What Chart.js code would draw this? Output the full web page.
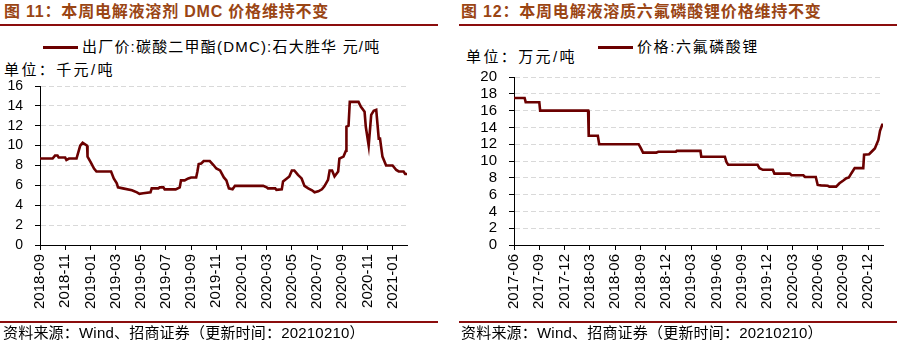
<!DOCTYPE html>
<html>
<head>
<meta charset="utf-8">
<script src="https://cdn.jsdelivr.net/npm/chart.js@4.4.1/dist/chart.umd.min.js"></script>
<style>
  html, body { margin: 0; padding: 0; background: #fff; }
  #page { position: relative; width: 900px; height: 345px; overflow: hidden;
          font-family: "Liberation Sans", Arial, "Noto Sans CJK SC", sans-serif; color: #000; }
  .abs { position: absolute; white-space: nowrap; }
  .title { top: 2px; font-size: 16px; line-height: 20px; font-weight: bold; color: #9a4514; letter-spacing: 0.8px; }
  .rule { position: absolute; height: 2px; background: #8b0d0d; }
  .legend, .unit { font-size: 15px; line-height: 18px; }
  .legend i { display: inline-block; width: 35px; height: 3px; background: #6b0000;
              vertical-align: middle; margin-right: 4px; position: relative; top: -1px; }
  .source { font-size: 15px; line-height: 18px; letter-spacing: 0.2px; }
  .box { position: absolute; }
</style>
</head>
<body>
<div id="page">
  <div class="abs title" style="left:4px">图 11：本周电解液溶剂 DMC 价格维持不变</div>
  <div class="rule" style="left:0;top:24px;width:438px"></div>
  <div class="abs legend" style="left:43px;top:38px;letter-spacing:1.2px"><i></i>出厂价:碳酸二甲酯(DMC):石大胜华 元/吨</div>
  <div class="abs unit" style="left:4px;top:61px;letter-spacing:2.4px">单位：千元/吨</div>
  <div class="box" style="left:0;top:30px;width:440px;height:292px"><canvas id="dmcChart"></canvas></div>
  <div class="rule" style="left:0;top:321px;width:438px"></div>
  <div class="abs source" style="left:3px;top:324px">资料来源：Wind、招商证券（更新时间：20210210）</div>

  <div class="abs title" style="left:461px">图 12：本周电解液溶质六氟磷酸锂价格维持不变</div>
  <div class="rule" style="left:459px;top:24px;width:438px"></div>
  <div class="abs legend" style="left:598px;top:38px;letter-spacing:1.6px"><i></i>价格:六氟磷酸锂</div>
  <div class="abs unit" style="left:466px;top:48px;letter-spacing:2.4px">单位：万元/吨</div>
  <div class="box" style="left:450px;top:30px;width:450px;height:292px"><canvas id="lipfChart"></canvas></div>
  <div class="rule" style="left:459px;top:321px;width:438px"></div>
  <div class="abs source" style="left:461px;top:324px">资料来源：Wind、招商证券（更新时间：20210210）</div>
</div>
<script>
// DMC ex-factory price, thousand yuan/ton
const dmcDates = [
  "2018-09-01", "2018-10-01", "2018-10-07", "2018-10-13", "2018-10-16", "2018-11-01", "2018-11-04",
  "2018-11-10", "2018-11-28", "2018-12-07", "2018-12-13", "2018-12-24", "2018-12-25", "2019-01-01",
  "2019-01-10", "2019-01-16", "2019-02-19", "2019-02-25", "2019-03-04", "2019-03-07", "2019-03-19",
  "2019-04-10", "2019-04-22", "2019-04-28", "2019-05-07", "2019-05-25", "2019-05-28", "2019-06-13",
  "2019-06-16", "2019-06-25", "2019-06-28", "2019-07-25", "2019-08-04", "2019-08-07", "2019-08-16",
  "2019-08-25", "2019-09-01", "2019-09-13", "2019-09-16", "2019-09-19", "2019-09-25", "2019-10-01",
  "2019-10-16", "2019-10-25", "2019-11-01", "2019-11-10", "2019-11-19", "2019-11-25", "2019-12-01",
  "2019-12-10", "2019-12-16", "2020-02-22", "2020-03-01", "2020-03-04", "2020-03-22", "2020-03-25",
  "2020-04-07", "2020-04-10", "2020-04-19", "2020-04-25", "2020-05-01", "2020-05-07", "2020-05-16",
  "2020-05-25", "2020-06-01", "2020-06-10", "2020-06-19", "2020-06-25", "2020-07-04", "2020-07-13",
  "2020-07-19", "2020-07-28", "2020-08-01", "2020-08-07", "2020-08-13", "2020-08-22", "2020-08-25",
  "2020-09-04", "2020-09-10", "2020-09-11", "2020-09-16", "2020-09-19", "2020-10-10", "2020-10-16",
  "2020-10-25", "2020-10-28", "2020-11-04", "2020-11-10", "2020-11-16", "2020-11-22", "2020-11-28",
  "2020-12-01", "2020-12-07", "2020-12-16", "2021-01-01", "2021-01-10", "2021-01-16", "2021-01-28",
  "2021-02-01", "2021-02-05"
];
const dmcPrices = [
  8.7, 8.7, 9.0, 9.0, 8.8, 8.8, 8.55,
  8.7, 8.7, 10.0, 10.3, 10.0, 8.9, 8.4,
  7.7, 7.4, 7.4, 6.7, 6.2, 5.8, 5.7,
  5.5, 5.3, 5.15, 5.2, 5.3, 5.7, 5.7,
  5.8, 5.8, 5.6, 5.6, 5.8, 6.5, 6.5,
  6.7, 6.8, 6.8, 7.4, 8.15, 8.2, 8.45,
  8.45, 8.05, 7.7, 7.5, 6.8, 6.5, 5.7,
  5.6, 5.95, 5.95, 5.8, 5.7, 5.7, 5.55,
  5.6, 6.4, 6.7, 6.9, 7.5, 7.5, 7.05,
  6.7, 5.95, 5.7, 5.5, 5.3, 5.4, 5.6,
  5.9, 6.55, 7.5, 7.5, 6.9, 7.4, 8.7,
  8.9, 9.5, 11.9, 12.0, 14.4, 14.4, 13.9,
  13.4, 11.9, 10.0, 13.1, 13.5, 13.6, 10.7,
  10.7, 8.9, 8.0, 8.0, 7.55, 7.4, 7.4,
  7.15, 7.15
];
const dmcTicks = ["2018-09", "2018-11", "2019-01", "2019-03", "2019-05", "2019-07", "2019-09", "2019-11",
  "2020-01", "2020-03", "2020-05", "2020-07", "2020-09", "2020-11", "2021-01"];

// LiPF6 price, ten-thousand yuan/ton
const lipfDates = [
  "2017-06-01", "2017-07-09", "2017-07-13", "2017-09-01", "2017-09-04", "2018-02-23", "2018-02-25",
  "2018-03-30", "2018-04-04", "2018-08-25", "2018-09-01", "2018-09-10", "2018-10-28", "2018-11-04",
  "2019-01-07", "2019-01-10", "2019-04-04", "2019-04-07", "2019-07-01", "2019-07-07", "2019-07-13",
  "2019-10-28", "2019-11-04", "2019-11-16", "2019-12-22", "2019-12-28", "2020-02-21", "2020-02-27",
  "2020-04-10", "2020-04-16", "2020-05-25", "2020-06-01", "2020-06-13", "2020-07-07", "2020-07-13",
  "2020-08-07", "2020-08-19", "2020-09-01", "2020-09-13", "2020-09-22", "2020-10-01", "2020-10-13",
  "2020-11-13", "2020-11-16", "2020-12-04", "2020-12-13", "2020-12-25", "2021-01-07", "2021-01-13",
  "2021-01-21", "2021-01-24"
];
const lipfPrices = [
  17.5, 17.5, 17.0, 17.0, 16.0, 16.0, 13.0,
  13.0, 12.0, 12.0, 11.6, 11.0, 11.0, 11.1,
  11.1, 11.2, 11.2, 10.5, 10.5, 9.85, 9.55,
  9.55, 9.15, 8.95, 8.95, 8.5, 8.5, 8.3,
  8.3, 8.1, 8.1, 7.15, 7.1, 7.05, 6.95,
  6.95, 7.35, 7.65, 7.95, 8.05, 8.55, 9.15,
  9.15, 10.75, 10.8, 11.1, 11.5, 12.5, 13.6,
  14.3, 14.3
];
const lipfTicks = ["2017-06", "2017-09", "2017-12", "2018-03", "2018-06", "2018-09", "2018-12", "2019-03",
  "2019-06", "2019-09", "2019-12", "2020-03", "2020-06", "2020-09", "2020-12"];

const lineColor = "#6b0000";
const fontFamily = "'Liberation Sans', Arial, sans-serif";

function monthsSince(base, dateStr) {
  const [by, bm] = base.split("-").map(Number);
  const [y, m, d = 1] = dateStr.split("-").map(Number);
  const days = new Date(y, m, 0).getDate();
  return (y - by) * 12 + (m - bm) + (d - 1) / days;
}

function makeChart(id, dates, prices, tickLabels, yMax, yWidth, pad, fontSize) {
  const base = tickLabels[0];
  const points = dates.map((d, i) => ({ x: monthsSince(base, d), y: prices[i] }));
  return new Chart(document.getElementById(id), {
    type: "line",
    data: {
      datasets: [{
        data: points,
        borderColor: lineColor,
        borderWidth: 2.6,
        pointRadius: 0,
        fill: false,
        tension: 0
      }]
    },
    options: {
      responsive: true,
      maintainAspectRatio: false,
      animation: false,
      devicePixelRatio: 1,
      layout: { padding: pad },
      plugins: { legend: { display: false }, tooltip: { enabled: false } },
      scales: {
        x: {
          type: "linear",
          min: 0,
          max: points[points.length - 1].x,
          afterBuildTicks: s => { s.ticks = tickLabels.map(t => ({ value: monthsSince(base, t) })); },
          afterFit: s => { s.height = 77; },
          ticks: {
            autoSkip: false, minRotation: 90, maxRotation: 90, padding: 4,
            color: "#000", font: { family: fontFamily, size: 15 },
            callback: (v, i) => tickLabels[i]
          },
          grid: { drawOnChartArea: false, tickLength: 5, tickColor: "#000" },
          border: { color: "#000", width: 1 }
        },
        y: {
          min: 0,
          max: yMax,
          afterFit: s => { s.width = yWidth; },
          ticks: { stepSize: 2, autoSkip: false, padding: 12, color: "#000", font: { family: fontFamily, size: fontSize } },
          grid: { color: "#d9d9d9", lineWidth: 1, tickLength: 5, tickColor: "#000", tickBorderDash: [] },
          border: { color: "#000", width: 1, dash: [5, 3] }
        }
      }
    }
  });
}

makeChart("dmcChart", dmcDates, dmcPrices, dmcTicks, 16, 40, { top: 56, right: 33, left: 0, bottom: 0 }, 14);
makeChart("lipfChart", lipfDates, lipfPrices, lipfTicks, 20, 64, { top: 47, right: 17, left: 0, bottom: 0 }, 15);
</script>
</body>
</html>
